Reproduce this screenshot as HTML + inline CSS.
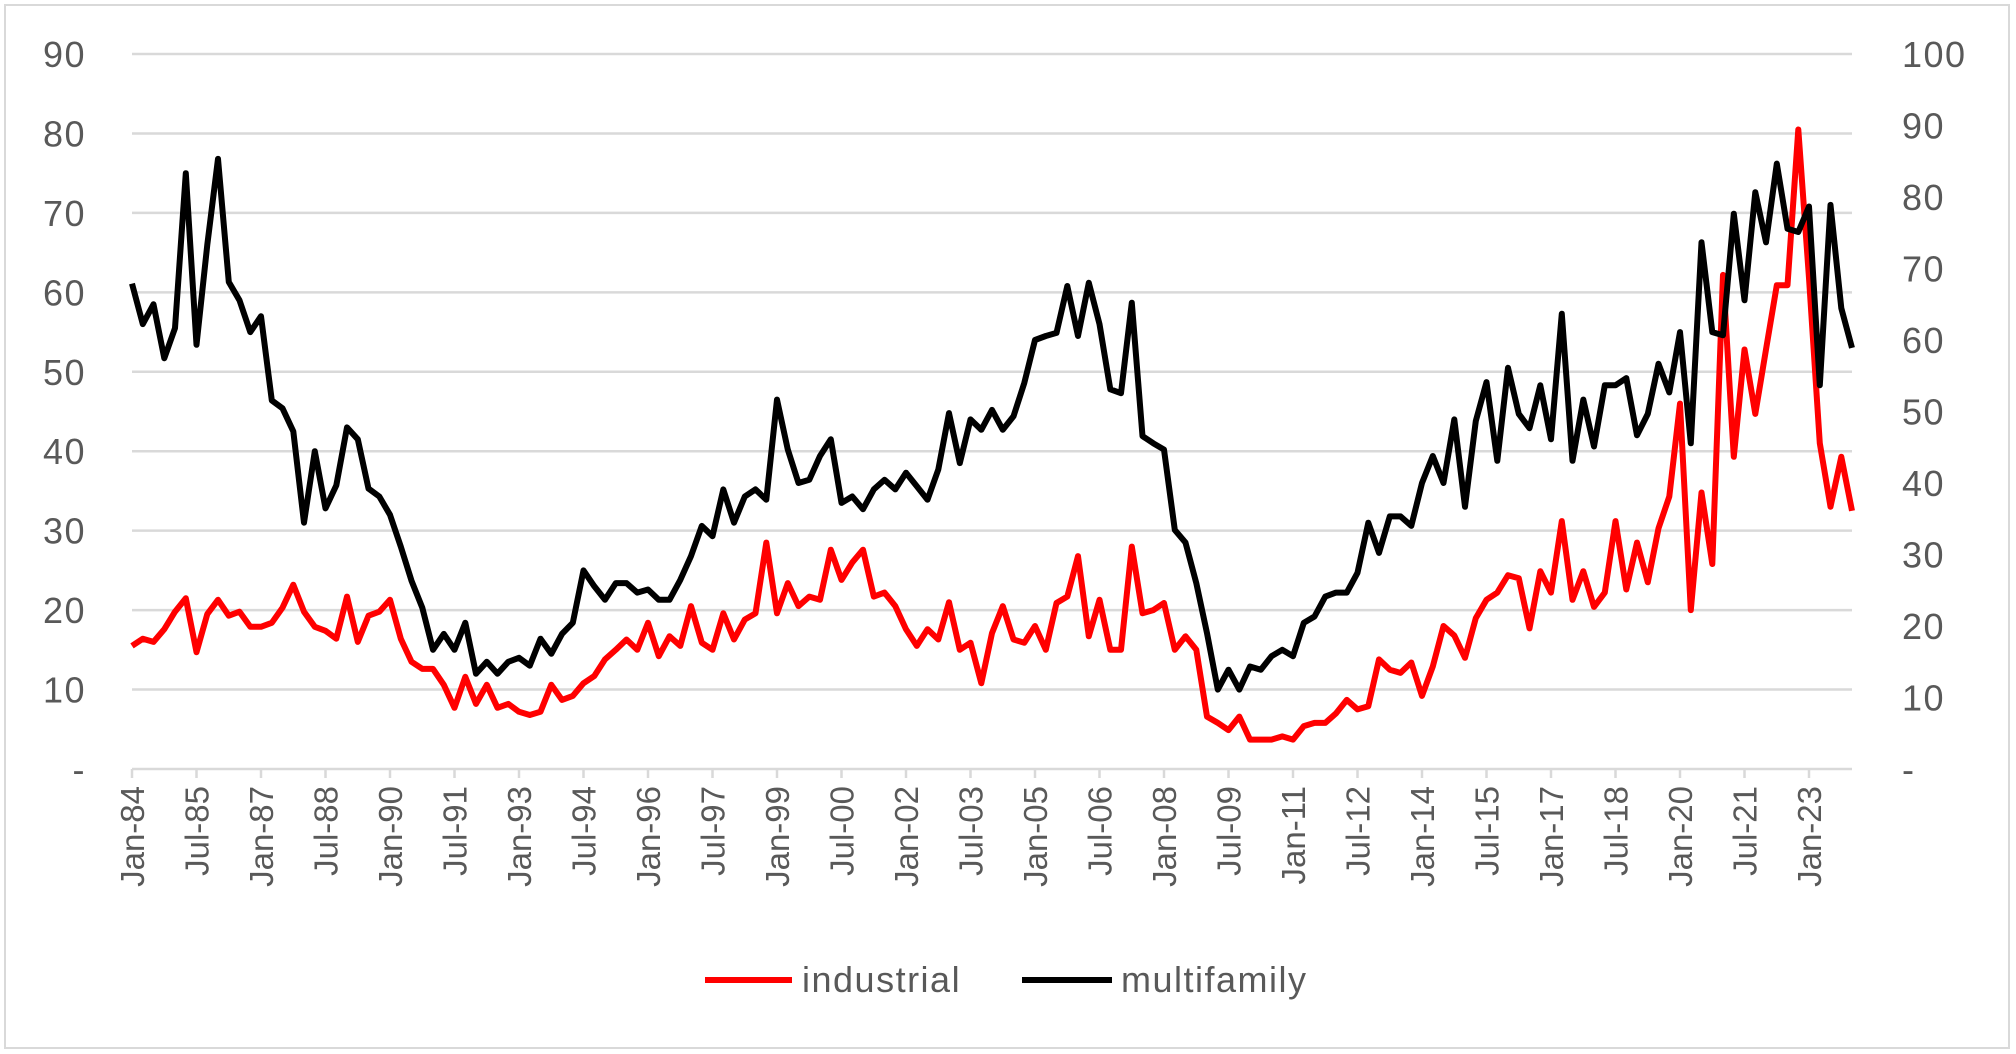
<!DOCTYPE html>
<html><head><meta charset="utf-8">
<style>
html,body{margin:0;padding:0;background:#fff;}
svg{display:block;font-family:"Liberation Sans",sans-serif;}
</style></head>
<body>
<svg id="chart" width="2016" height="1054" viewBox="0 0 2016 1054">
<rect x="5" y="5" width="2004" height="1043" fill="#fff" stroke="#d9d9d9" stroke-width="2"/>
<g id="grid"></g>
<g id="yl"></g>
<g id="yr"></g>
<g id="xa"></g>
<g id="series"></g>
<g>
  <g>
    <line x1="705" y1="980" x2="792" y2="980" stroke="#ff0000" stroke-width="6"/>
    <text x="802" y="992" font-size="36" fill="#595959" letter-spacing="1.5">industrial</text>
  </g>
  <g>
    <line x1="1022" y1="980" x2="1112" y2="980" stroke="#000" stroke-width="6"/>
    <text x="1121" y="992" font-size="36" fill="#595959" letter-spacing="1.5">multifamily</text>
  </g>
</g>
</svg>
<script>
const leftTicks=["-","10","20","30","40","50","60","70","80","90"];
const rightTicks=["-","10","20","30","40","50","60","70","80","90","100"];
const xTickLabels=["Jan-84","Jul-85","Jan-87","Jul-88","Jan-90","Jul-91","Jan-93","Jul-94","Jan-96","Jul-97","Jan-99","Jul-00","Jan-02","Jul-03","Jan-05","Jul-06","Jan-08","Jul-09","Jan-11","Jul-12","Jan-14","Jul-15","Jan-17","Jul-18","Jan-20","Jul-21","Jan-23"];
// quarterly observations Jan-84 .. Jan-24 (left-axis scale)
const industrial=[15.5,16.4,16,17.6, 19.8,21.5,14.7,19.5, 21.3,19.3,19.8,17.9, 17.9,18.4,20.3,23.2, 19.8,17.9,17.4,16.4, 21.7,16,19.3,19.8,
21.3,16.4,13.5,12.6, 12.6,10.6,7.7,11.6, 8.2,10.6,7.7,8.2, 7.2,6.8,7.2,10.6, 8.7,9.2,
10.8,11.7,13.8,15, 16.3,15,18.4,14.2, 16.7,15.5,20.5,15.9, 15,19.6,16.3,18.8, 19.6,28.5,19.6,23.4, 20.5,21.7,21.3,27.6, 23.8,26,27.6,21.7, 22.2,20.5,17.6,15.5, 17.6,16.3,21,15, 15.9,10.8,17.1,20.5,
16.3,15.9,18,15, 20.9,21.7,26.8,16.7, 21.3,15,15,28, 19.6,20,20.9,15, 16.7,15,6.6,5.8, 4.9,6.6,3.7,3.7, 3.7,4.1,3.7,5.4, 5.8,5.8,7,8.7, 7.5,7.9,13.8,12.5, 12.1,13.4,9.2,12.9, 18,
16.8,14,19,21.3, 22.2,24.4,24,17.7, 24.9,22.2,31.2,21.3, 24.9,20.4,22.2,31.2, 22.6,28.5,23.5,30.3, 34.3,46,20,34.8, 25.8,62.2,39.3,52.8, 44.7,52.8,60.9,60.9, 80.5,61.8,41,33, 39.3,32.5];
const multifamily=[61.1,56,58.5,51.7, 55.5,75,53.4,66, 76.8,61.3,59,55, 57,46.4,45.4,42.5, 31,40,32.8,35.7, 43,41.5,35.3,34.3,
32,28,23.7,20.3, 15,17,15,18.4, 12,13.5,12,13.5, 14,13,16.4,14.5, 17,18.4,
25,23,21.3,23.4, 23.4,22.2,22.6,21.3, 21.3,23.8,26.8,30.6, 29.3,35.2,31,34.3, 35.2,33.9,46.5,40.2, 36,36.4,39.4,41.5, 33.5,34.3,32.7,35.2, 36.4,35.2,37.3,35.6, 33.9,37.7,44.8,38.5, 44,42.7,45.2,42.7,
44.4,48.6,54,54.5, 54.9,60.8,54.5,61.2, 56,47.8,47.3,58.7, 41.9,41,40.2,30.1, 28.5,23.4,17.1,10, 12.5,10,12.9,12.5, 14.2,15,14.2,18.4, 19.2,21.7,22.2,22.2, 24.7,31,27.2,31.8, 31.8,30.6,36,39.4, 36,
44,33,43.8,48.7, 38.8,50.5,44.7,42.9, 48.3,41.5,57.3,38.8, 46.5,40.6,48.3,48.3, 49.2,42,44.7,51, 47.4,55,41,66.3, 55,54.6,69.9,59, 72.6,66.3,76.2,68, 67.6,70.8,48.3,71, 58,53];
const NS="http://www.w3.org/2000/svg";
const L=132,R=1852,T=54,B=769;
const months=480;
function xScale(m){return L+(R-L)*m/months;}
function yLeft(v){return B-(B-T)*v/90;}
function yRight(v){return B-(B-T)*v/100;}
function mk(tag,attrs,parent){const e=document.createElementNS(NS,tag);for(const k in attrs)e.setAttribute(k,attrs[k]);parent.appendChild(e);return e;}
const grid=document.getElementById('grid'),yl=document.getElementById('yl'),yr=document.getElementById('yr'),xa=document.getElementById('xa'),ser=document.getElementById('series');
leftTicks.forEach((t,i)=>{
  const y=yLeft(i*10);
  const g=mk('line',{x1:L,x2:R,y1:y,y2:y,stroke:'#d9d9d9','stroke-width':2.5},grid);
  
  
  const tx=mk('text',{x:86,y:y+13,'text-anchor':'end','font-size':36,fill:'#595959','letter-spacing':1.5},yl);
  tx.textContent=t;
  
  
});
rightTicks.forEach((t,i)=>{
  const y=yRight(i*10);
  const tx=mk('text',{x:1902,y:y+13,'text-anchor':'start','font-size':36,fill:'#595959','letter-spacing':1.5},yr);
  tx.textContent=t;
  
  
});
xTickLabels.forEach((t,i)=>{
  const x=xScale(i*18);
  const tk=mk('line',{x1:x,x2:x,y1:B,y2:B+9,stroke:'#d9d9d9','stroke-width':2.5},xa);
  
  
  const tx=mk('text',{x:0,y:0,'text-anchor':'end','font-size':33,fill:'#595959',transform:`translate(${x+12},786) rotate(-90)`},xa);
  tx.textContent=t;
  
  
});
function path(vals,ys){return vals.map((v,i)=>(i?'L':'M')+xScale(i*3).toFixed(1)+','+ys(v).toFixed(1)).join('');}
const pi=mk('path',{d:path(industrial,yLeft),fill:'none',stroke:'#ff0000','stroke-width':6,'stroke-linejoin':'round'},ser);


const pm=mk('path',{d:path(multifamily,yLeft),fill:'none',stroke:'#000','stroke-width':6,'stroke-linejoin':'round'},ser);


</script>
</body></html>
